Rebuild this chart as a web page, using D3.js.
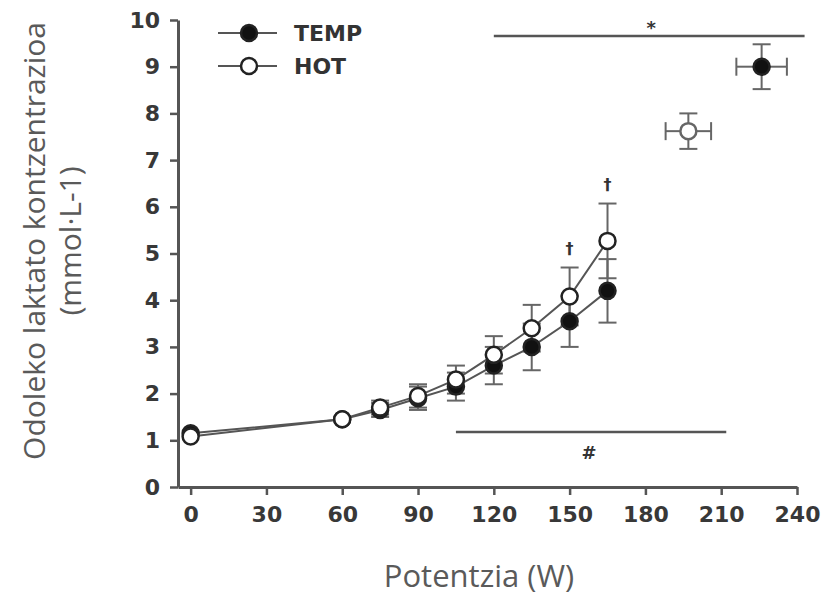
<!DOCTYPE html>
<html>
<head>
    <meta charset="utf-8">
    <title>Odoleko laktatoa</title>
    <script src="https://d3js.org/d3.v7.min.js"></script>
    <style>
        body { margin: 0; background: #ffffff; }
        .tick text { font-family: "DejaVu Sans", sans-serif; font-weight: bold; fill: #383838; }
    </style>
</head>
<body>
    <svg width="826" height="596"></svg>
    <script>
        // Data
        const power = [0, 60, 75, 90, 105, 120, 135, 150, 165];
        const tempVals = [1.15, 1.45, 1.65, 1.9, 2.15, 2.6, 3.0, 3.55, 4.2];
        const tempErr = [0.08, 0.08, 0.15, 0.25, 0.3, 0.4, 0.5, 0.55, 0.68];
        const hotVals = [1.08, 1.45, 1.7, 1.95, 2.3, 2.83, 3.4, 4.08, 5.27];
        const hotErr = [0.08, 0.08, 0.15, 0.25, 0.3, 0.4, 0.5, 0.62, 0.8];
        // Peak values (x = power, y = lactate, with errors on both)
        const peakTemp = { x: 226, y: 9.0, xe: 10, ye: 0.48 };
        const peakHot = { x: 197, y: 7.62, xe: 9, ye: 0.38 };
        const xTicks = [0, 30, 60, 90, 120, 150, 180, 210, 240];
        const yTicks = [0, 1, 2, 3, 4, 5, 6, 7, 8, 9, 10];
        // Significance bars
        const starBar = { from: 120, to: 243, y: 9.66, label: "*" };
        const hashBar = { from: 105, to: 212, y: 1.18, label: "#" };

        const svg = d3.select("svg");
        const x = d3.scaleLinear().domain([-5, 240]).range([178, 797]);
        const y = d3.scaleLinear().domain([0, 10]).range([487, 20]);
        const axisCol = "#555";

        // Axes
        const xAxis = svg.append("g")
            .attr("transform", "translate(0,487)")
            .call(d3.axisBottom(x).tickValues(xTicks).tickSize(8).tickSizeOuter(0).tickPadding(11));
        const yAxis = svg.append("g")
            .attr("transform", "translate(178,0)")
            .call(d3.axisLeft(y).tickValues(yTicks).tickSize(8).tickSizeOuter(0).tickPadding(10));
        [xAxis, yAxis].forEach(a => {
            a.select(".domain").attr("stroke", axisCol).attr("stroke-width", 3);
            a.selectAll(".tick line").attr("stroke", axisCol).attr("stroke-width", 2.5);
            a.selectAll(".tick text").style("font-size", "22px");
        });

        // Axis titles
        svg.append("text")
            .attr("transform", "translate(45,241) rotate(-90)")
            .attr("text-anchor", "middle")
            .style("font-family", "Open Sans, sans-serif")
            .style("font-size", "30px")
            .attr("fill", "#5a5a5a")
            .text("Odoleko laktato kontzentrazioa");
        svg.append("text")
            .attr("transform", "translate(81,241) rotate(-90)")
            .attr("text-anchor", "middle")
            .style("font-family", "Open Sans, sans-serif")
            .style("font-size", "30px")
            .attr("fill", "#5a5a5a")
            .text("(mmol·L-1)");
        svg.append("text")
            .attr("x", 479).attr("y", 587)
            .attr("text-anchor", "middle")
            .style("font-family", "Open Sans, sans-serif")
            .style("font-size", "31px")
            .attr("fill", "#5a5a5a")
            .text("Potentzia (W)");

        // Significance bars
        [starBar, hashBar].forEach((b, i) => {
            svg.append("line")
                .attr("x1", x(b.from)).attr("x2", x(b.to))
                .attr("y1", y(b.y)).attr("y2", y(b.y))
                .attr("stroke", axisCol).attr("stroke-width", 2.5);
            svg.append("text")
                .attr("x", (x(b.from) + x(b.to)) / 2 + (i === 0 ? 2 : -2))
                .attr("y", i === 0 ? y(b.y) - 2 : y(b.y) + 27)
                .attr("text-anchor", "middle")
                .style("font-family", "DejaVu Sans, sans-serif")
                .style("font-weight", "bold")
                .style("font-size", "18px")
                .attr("fill", "#333")
                .text(b.label);
        });

        const line = d3.line().x(d => x(d[0])).y(d => y(d[1]));
        const series = [
            { vals: hotVals, err: hotErr, fill: "#fff" },
            { vals: tempVals, err: tempErr, fill: "#111" }
        ];

        // Lines
        series.forEach(s => {
            svg.append("path")
                .datum(power.map((p, i) => [p, s.vals[i]]))
                .attr("d", line)
                .attr("fill", "none")
                .attr("stroke", "#555")
                .attr("stroke-width", 2);
        });

        // Error bars
        function vbar(px, y1, y2) {
            svg.append("line").attr("x1", px).attr("x2", px).attr("y1", y1).attr("y2", y2)
                .attr("stroke", "#666").attr("stroke-width", 2);
            svg.append("line").attr("x1", px - 9).attr("x2", px + 9).attr("y1", y2).attr("y2", y2)
                .attr("stroke", "#666").attr("stroke-width", 2);
        }
        function hbar(py, x1, x2) {
            svg.append("line").attr("x1", x1).attr("x2", x2).attr("y1", py).attr("y2", py)
                .attr("stroke", "#666").attr("stroke-width", 2);
            svg.append("line").attr("x1", x2).attr("x2", x2).attr("y1", py - 9).attr("y2", py + 9)
                .attr("stroke", "#666").attr("stroke-width", 2);
        }
        power.forEach((p, i) => {
            if (i < 2) return;
            vbar(x(p), y(tempVals[i]), y(tempVals[i] - tempErr[i]));
            vbar(x(p), y(tempVals[i]), y(tempVals[i] + tempErr[i]));
            vbar(x(p), y(hotVals[i]), y(hotVals[i] + hotErr[i]));
            vbar(x(p), y(hotVals[i]), y(hotVals[i] - hotErr[i]));
        });
        [peakTemp, peakHot].forEach(pk => {
            vbar(x(pk.x), y(pk.y), y(pk.y + pk.ye));
            vbar(x(pk.x), y(pk.y), y(pk.y - pk.ye));
            hbar(y(pk.y), x(pk.x), x(pk.x + pk.xe));
            hbar(y(pk.y), x(pk.x), x(pk.x - pk.xe));
        });

        // Markers
        series.slice().reverse().forEach(s => {
            svg.selectAll(null)
                .data(power.map((p, i) => [p, s.vals[i]]))
                .join("circle")
                .attr("cx", d => x(d[0])).attr("cy", d => y(d[1]))
                .attr("r", 8)
                .attr("fill", s.fill)
                .attr("stroke", "#222")
                .attr("stroke-width", 2.5);
        });
        svg.append("circle").attr("cx", x(peakHot.x)).attr("cy", y(peakHot.y)).attr("r", 8)
            .attr("fill", "#fff").attr("stroke", "#666").attr("stroke-width", 2.5);
        svg.append("circle").attr("cx", x(peakTemp.x)).attr("cy", y(peakTemp.y)).attr("r", 8)
            .attr("fill", "#111").attr("stroke", "#222").attr("stroke-width", 2.5);

        // Daggers above HOT at 150 and 165
        [7, 8].forEach(i => {
            svg.append("text")
                .attr("x", x(power[i]))
                .attr("y", y(hotVals[i] + hotErr[i]) - 14)
                .attr("text-anchor", "middle")
                .style("font-family", "DejaVu Sans, sans-serif")
                .style("font-weight", "bold")
                .style("font-size", "16px")
                .attr("fill", "#333")
                .text("†");
        });

        // Legend
        const legend = [
            { label: "TEMP", fill: "#111", yy: 33 },
            { label: "HOT", fill: "#fff", yy: 66 }
        ];
        legend.forEach(l => {
            svg.append("line").attr("x1", 218).attr("x2", 277).attr("y1", l.yy).attr("y2", l.yy)
                .attr("stroke", "#555").attr("stroke-width", 2);
            svg.append("circle").attr("cx", 249).attr("cy", l.yy).attr("r", 8)
                .attr("fill", l.fill).attr("stroke", "#222").attr("stroke-width", 2.5);
            svg.append("text").attr("x", 294).attr("y", l.yy + 8)
                .style("font-family", "DejaVu Sans, sans-serif")
                .style("font-weight", "bold")
                .style("font-size", "22px")
                .attr("fill", "#333")
                .text(l.label);
        });
    </script>
</body>
</html>
